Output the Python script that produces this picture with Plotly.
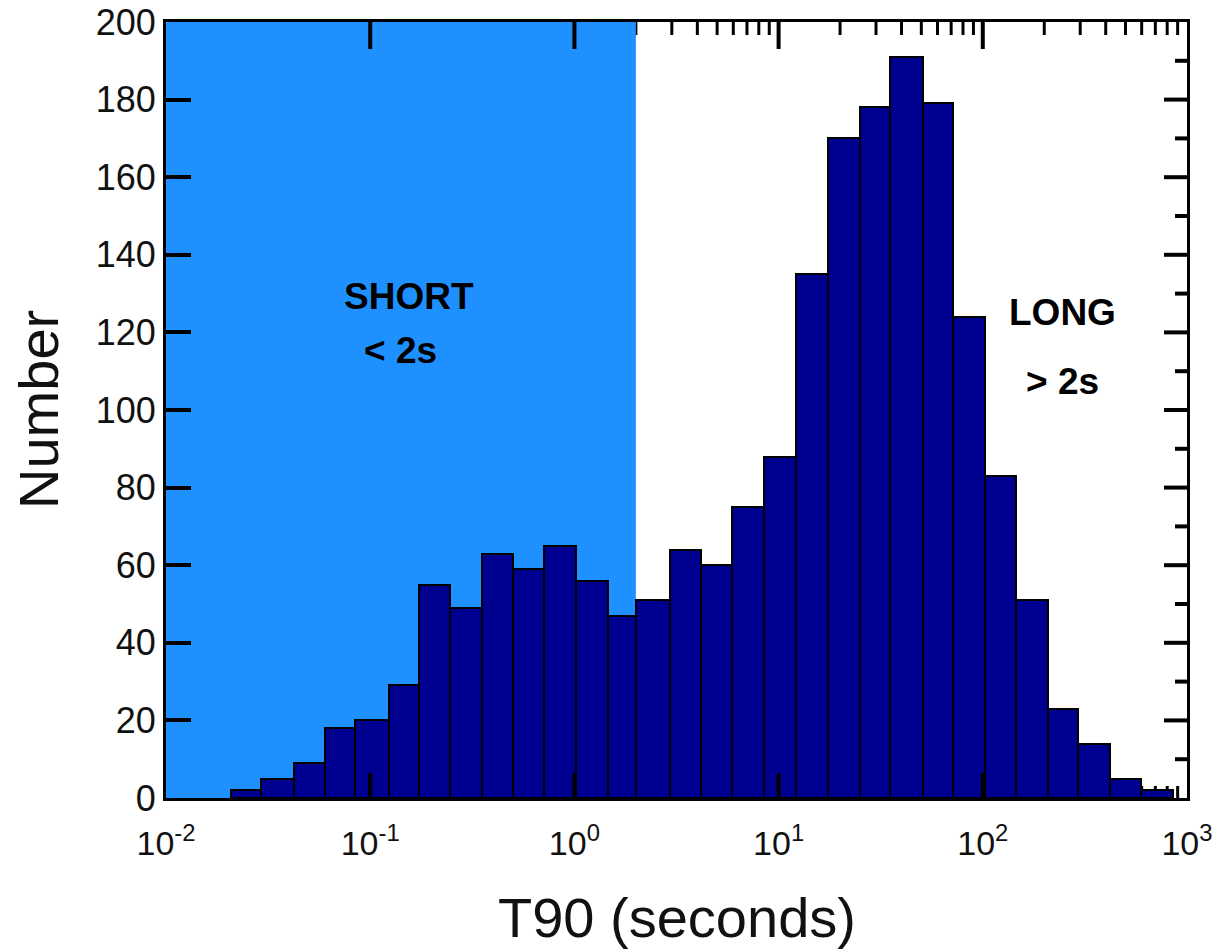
import plotly.graph_objects as go

# ---------------- data ----------------
# histogram bin edges of T90 in seconds (logarithmic bins)
bin_edges = [0.0208, 0.0292, 0.0422, 0.0601, 0.0846, 0.123, 0.173, 0.247,
             0.354, 0.503, 0.709, 1.02, 1.46, 2.0, 2.95, 4.19, 5.94, 8.52,
             12.2, 17.5, 24.9, 35.3, 51.2, 71.8, 103, 146, 208, 294, 422,
             598, 853]
# number of bursts in each bin
counts = [2, 5, 9, 18, 20, 29, 55, 49, 63, 59, 65, 56, 47, 51, 64, 60, 75,
          88, 135, 170, 178, 191, 179, 124, 83, 51, 23, 14, 5, 2]
x_tick_vals = [0.01, 0.1, 1, 10, 100, 1000]
x_tick_text = ["10<sup>-2</sup>", "10<sup>-1</sup>", "10<sup>0</sup>",
               "10<sup>1</sup>", "10<sup>2</sup>", "10<sup>3</sup>"]
y_tick_vals = [0, 20, 40, 60, 80, 100, 120, 140, 160, 180, 200]
short_long_boundary = 2.0  # seconds
x_min, x_max = 0.01, 1000
y_max = 200

# ---------------- layout geometry ----------------
W, H = 1214, 950
ML, MR, MT, MB = 166, 27, 22, 152
PW, PH = W - ML - MR, H - MT - MB

FONT = "Arial, 'Liberation Sans', sans-serif"
BAR_COLOR = "#000090"
SHADE_COLOR = "#1E90FF"


def ylen(px):
    return px / PH * y_max


def page_x(px):
    return (px - ML) / PW


def page_y(py):
    return 1 - (py - MT) / PH


lo = bin_edges[:-1]
hi = bin_edges[1:]
centers = [(a + b) / 2 for a, b in zip(lo, hi)]
widths = [b - a for a, b in zip(lo, hi)]

fig = go.Figure()
fig.add_trace(go.Bar(
    x=centers, y=counts, width=widths,
    marker=dict(color=BAR_COLOR, line=dict(color="black", width=2)),
    hoverinfo="skip", showlegend=False,
))

shapes = []
# minor ticks on top and bottom (hidden by shading / bars where they overlap)
for d in range(-2, 3):
    for m in range(2, 10):
        v = m * 10 ** d
        for y0, y1 in ((0, ylen(12)), (y_max, y_max - ylen(13))):
            shapes.append(dict(type="line", xref="x", yref="y", x0=v, x1=v,
                               y0=y0, y1=y1, layer="below",
                               line=dict(color="black", width=3)))
# short-burst shading
shapes.append(dict(type="rect", xref="x", yref="y", x0=x_min,
                   x1=short_long_boundary, y0=0, y1=y_max,
                   fillcolor=SHADE_COLOR, line=dict(width=0), layer="below"))
# major ticks (decades) on top and bottom
for v in x_tick_vals[1:-1]:
    for y0, y1 in ((0, ylen(25)), (y_max, y_max - ylen(27))):
        shapes.append(dict(type="line", xref="x", yref="y", x0=v, x1=v,
                           y0=y0, y1=y1, layer="above",
                           line=dict(color="black", width=4)))
# right axis ticks: long at multiples of 20, short at odd multiples of 10
for v in range(10, y_max, 10):
    ln = 23 if v % 20 == 0 else 12
    shapes.append(dict(type="line", xref="paper", yref="y",
                       x0=1 - ln / PW, x1=1, y0=v, y1=v, layer="above",
                       line=dict(color="black", width=4)))

annotations = [
    dict(text="<b>SHORT</b>", x=409, y=296),
    dict(text="<b>< 2s</b>", x=400, y=350),
    dict(text="<b>LONG</b>", x=1062, y=312),
    dict(text="<b>> 2s</b>", x=1062, y=381),
]
ann = []
for a in annotations:
    ann.append(dict(text=a["text"], xref="paper", yref="paper",
                    x=page_x(a["x"]), y=page_y(a["y"]),
                    xanchor="center", yanchor="middle", showarrow=False,
                    font=dict(family=FONT, size=37, color="black")))
# axis titles
ann.append(dict(text="T90 (seconds)", xref="paper", yref="paper",
                x=0.5, y=page_y(918), xanchor="center",
                yanchor="middle", showarrow=False,
                font=dict(family=FONT, size=56, color="#111")))
ann.append(dict(text="Number", xref="paper", yref="paper",
                x=page_x(38), y=0.5, xanchor="center", yanchor="middle",
                textangle=-90, showarrow=False,
                font=dict(family=FONT, size=56, color="#111")))

fig.update_layout(
    template="none",
    width=W, height=H, autosize=False,
    margin=dict(l=ML, r=MR, t=MT, b=MB, pad=0),
    paper_bgcolor="white", plot_bgcolor="white",
    shapes=shapes, annotations=ann, showlegend=False,
    bargap=0,
    xaxis=dict(type="log", range=[-2.0001, 3.0001], showgrid=False,
               zeroline=False, automargin=False,
               showline=True, mirror=True, linecolor="black", linewidth=3,
               ticks="", tickmode="array", tickvals=x_tick_vals,
               ticktext=x_tick_text, ticklabelstandoff=13,
               ticklabeloverflow="allow",
               tickfont=dict(family=FONT, size=34, color="#111")),
    yaxis=dict(range=[0, y_max], showgrid=False, zeroline=False,
               automargin=False,
               showline=True, mirror=True, linecolor="black", linewidth=3,
               ticks="inside", ticklen=25, tickwidth=4, tickcolor="black",
               tickmode="array", tickvals=y_tick_vals,
               ticklabeloverflow="allow",
               tickfont=dict(family=FONT, size=36, color="#111")),
)

fig.write_html(
    "out.html",
    config={"displayModeBar": False},
    post_script="document.body.style.margin='0';"
                "document.body.style.overflow='hidden';",
)
